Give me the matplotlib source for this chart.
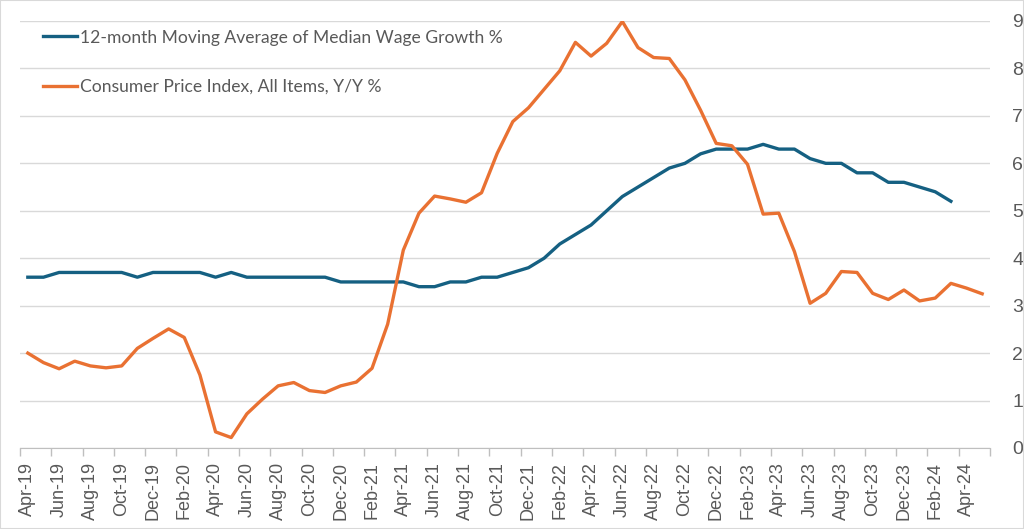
import matplotlib
matplotlib.use("Agg")
import matplotlib.pyplot as plt
import numpy as np
from matplotlib.patches import Rectangle

# months Apr-19 .. May-24
months = ["Apr-19", "May-19", "Jun-19", "Jul-19", "Aug-19", "Sep-19", "Oct-19", "Nov-19", "Dec-19",
          "Jan-20", "Feb-20", "Mar-20", "Apr-20", "May-20", "Jun-20", "Jul-20", "Aug-20", "Sep-20",
          "Oct-20", "Nov-20", "Dec-20", "Jan-21", "Feb-21", "Mar-21", "Apr-21", "May-21", "Jun-21",
          "Jul-21", "Aug-21", "Sep-21", "Oct-21", "Nov-21", "Dec-21", "Jan-22", "Feb-22", "Mar-22",
          "Apr-22", "May-22", "Jun-22", "Jul-22", "Aug-22", "Sep-22", "Oct-22", "Nov-22", "Dec-22",
          "Jan-23", "Feb-23", "Mar-23", "Apr-23", "May-23", "Jun-23", "Jul-23", "Aug-23", "Sep-23",
          "Oct-23", "Nov-23", "Dec-23", "Jan-24", "Feb-24", "Mar-24", "Apr-24", "May-24"]

# wage growth stops at Mar-24
wage = [3.6, 3.6, 3.7, 3.7, 3.7, 3.7, 3.7, 3.6, 3.7, 3.7, 3.7, 3.7, 3.6, 3.7, 3.6, 3.6,
        3.6, 3.6, 3.6, 3.6, 3.5, 3.5, 3.5, 3.5, 3.5, 3.4, 3.4, 3.5, 3.5, 3.6, 3.6, 3.7,
        3.8, 4.0, 4.3, 4.5, 4.7, 5.0, 5.3, 5.5, 5.7, 5.9, 6.0, 6.2, 6.3, 6.3, 6.3, 6.4,
        6.3, 6.3, 6.1, 6.0, 6.0, 5.8, 5.8, 5.6, 5.6, 5.5, 5.4, 5.2]

cpi = [2.0, 1.8, 1.67, 1.83, 1.73, 1.69, 1.73, 2.1, 2.31, 2.51, 2.33, 1.54, 0.34, 0.22,
       0.72, 1.03, 1.31, 1.38, 1.21, 1.17, 1.31, 1.39, 1.68, 2.61, 4.17, 4.95, 5.31, 5.25,
       5.18, 5.38, 6.21, 6.88, 7.17, 7.56, 7.95, 8.55, 8.26, 8.53, 8.99, 8.44, 8.23, 8.21,
       7.76, 7.12, 6.42, 6.37, 5.98, 4.93, 4.95, 4.14, 3.05, 3.26, 3.72, 3.70, 3.26, 3.13,
       3.33, 3.10, 3.16, 3.47, 3.37, 3.25]

wage_label = "12-month Moving Average of Median Wage Growth %"
cpi_label = "Consumer Price Index, All Items, Y/Y %"

blue = "#156082"
orange = "#E97132"
grey_txt = "#595959"

plt.rcParams["font.family"] = ["Liberation Sans", "DejaVu Sans"]

fig = plt.figure(figsize=(10.24, 5.29), dpi=100)
ax = fig.add_axes([20 / 1024, 1 - 448 / 529, 970 / 1024, 427 / 529])

x = np.arange(len(months))
ax.plot(x[:len(wage)], wage, color=blue, lw=2.4, label=wage_label, solid_joinstyle="round")
ax.plot(x, cpi, color=orange, lw=2.4, label=cpi_label, solid_joinstyle="round")

ax.set_xlim(-0.5, len(months) - 0.5)
ax.set_ylim(0, 9)

# y axis on the right
ax.yaxis.tick_right()
ax.set_yticks(range(0, 10))
ax.tick_params(axis="y", length=0, pad=16, labelsize=14, labelcolor=grey_txt)
ax.grid(axis="y", color="#d9d9d9", lw=1)
ax.set_axisbelow(True)

# labels every 2 months, tick marks on category boundaries
ax.set_xticks(x[::2])
ax.set_xticklabels(months[::2], rotation=90, fontsize=13, color=grey_txt)
ax.set_xticks(np.arange(-0.5, len(months), 2), minor=True)
ax.tick_params(axis="x", which="major", length=0, pad=10)
ax.tick_params(axis="x", which="minor", length=6, color="#bfbfbf", width=1)

for s in ["top", "left", "right"]:
    ax.spines[s].set_visible(False)
ax.spines["bottom"].set_color("#bfbfbf")

leg = ax.legend(loc="upper left", bbox_to_anchor=(0.0237, 0.98), frameon=False,
                prop={"family": "Lato", "size": 12.6}, handlelength=1.95, handletextpad=0.15,
                labelspacing=1.9, borderpad=0, borderaxespad=0)
for t in leg.get_texts():
    t.set_color(grey_txt)

fig.patches.append(Rectangle((0, 0), 1, 1, transform=fig.transFigure, fill=False,
                             edgecolor="#d9d9d9", lw=1.5))

fig.savefig("out.png", dpi=100)
